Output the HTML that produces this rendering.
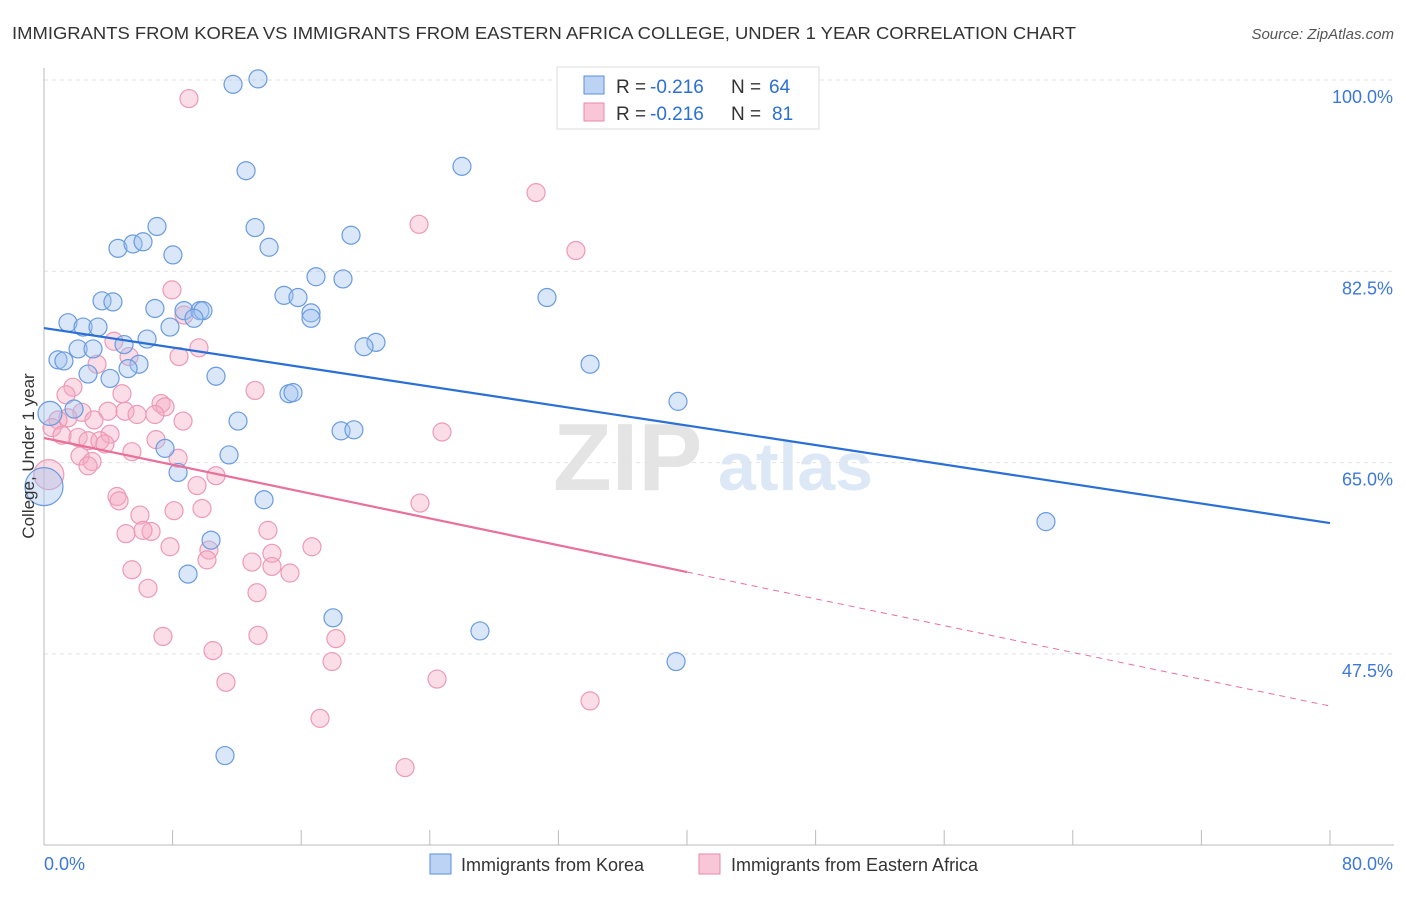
<!DOCTYPE html>
<html><head><meta charset="utf-8"><style>
body{margin:0;background:#fff;font-family:"Liberation Sans",sans-serif;}
svg text{font-family:"Liberation Sans",sans-serif;}
</style></head><body>
<svg id="chart" width="1406" height="892" xmlns="http://www.w3.org/2000/svg">
<text x="12" y="39" font-size="17.5" fill="#333" textLength="1064" lengthAdjust="spacingAndGlyphs">IMMIGRANTS FROM KOREA VS IMMIGRANTS FROM EASTERN AFRICA COLLEGE, UNDER 1 YEAR CORRELATION CHART</text>
<text x="1394" y="39" font-size="15" fill="#555" text-anchor="end" font-style="italic">Source: ZipAtlas.com</text>
<text x="553" y="490" font-size="96" fill="#e4e4e4" font-family="Liberation Serif" font-weight="bold">ZIP</text>
<text x="718" y="490" font-size="68" fill="#dde8f6" font-weight="bold">atlas</text>
<g id="grid"></g>
<g id="axes"></g>
<g id="pts"></g>
<g id="trend"></g>
<text transform="translate(34,456) rotate(-90)" font-size="17" fill="#333" text-anchor="middle">College, Under 1 year</text>
<g>
<rect x="557" y="67" width="262" height="62" fill="#fff" stroke="#ddd"/>
<rect x="584" y="76" width="20" height="18" fill="#bdd3f3" stroke="#5a8fdc"/>
<rect x="584" y="103" width="20" height="18" fill="#f8c6d6" stroke="#e889a8"/>
<text x="616" y="93" font-size="19" fill="#333">R =</text>
<text x="650" y="93" font-size="19" fill="#2a6fd6">-0.216</text>
<text x="731" y="93" font-size="19" fill="#333">N =</text>
<text x="769" y="93" font-size="19" fill="#2a6fd6">64</text>
<text x="616" y="120" font-size="19" fill="#333">R =</text>
<text x="650" y="120" font-size="19" fill="#2a6fd6">-0.216</text>
<text x="731" y="120" font-size="19" fill="#333">N =</text>
<text x="772" y="120" font-size="19" fill="#2a6fd6">81</text>
</g>
<g>
<rect x="430" y="854" width="21" height="20" fill="#bdd3f3" stroke="#5a8fdc"/>
<text x="461" y="871" font-size="18" fill="#333">Immigrants from Korea</text>
<rect x="699" y="854" width="21" height="20" fill="#f8c6d6" stroke="#e889a8"/>
<text x="731" y="871" font-size="18" fill="#333">Immigrants from Eastern Africa</text>
</g>
</svg>
<script>
const yTicks=[100,82.5,65,47.5];
const yTickLabels=["100.0%","82.5%","65.0%","47.5%"];
const xTicks=[0,8,16,24,32,40,48,56,64,72,80];
const koreaX=[11.76,13.31,12.57,26.0,7.03,13.13,19.1,4.6,5.54,6.16,8.02,14.0,16.92,18.6,3.61,4.29,14.93,15.8,6.9,8.71,9.7,9.89,9.33,16.61,16.61,31.29,1.49,2.43,3.36,7.84,6.41,4.98,2.12,3.05,0.87,1.24,5.91,20.65,19.91,33.97,2.74,4.11,5.23,10.7,15.24,15.49,39.44,1.87,12.07,18.48,19.28,7.53,11.51,8.34,0,13.69,62.33,10.39,8.96,17.98,27.12,39.32,11.26,0.37];
const koreaY=[99.6,100.1,91.7,92.1,86.6,86.5,85.8,84.6,85.0,85.2,84.0,84.7,82.0,81.8,79.8,79.7,80.3,80.1,79.1,78.9,78.9,78.9,78.2,78.7,78.2,80.1,77.8,77.4,77.4,77.4,76.3,75.8,75.4,75.4,74.4,74.3,74.0,76.0,75.6,74.0,73.1,72.7,73.6,72.9,71.3,71.4,70.6,69.9,68.8,67.9,68.0,66.3,65.7,64.1,62.8,61.6,59.6,57.9,54.8,50.8,49.6,46.8,38.2,69.5];
const koreaSize=[9,9,9,9,9,9,9,9,9,9,9,9,9,9,9,9,9,9,9,9,9,9,9,9,9,9,9,9,9,9,9,9,9,9,9,9,9,9,9,9,9,9,9,9,9,9,9,9,9,9,9,9,9,9,19,9,9,9,9,9,9,9,9,12];
const eafX=[9.02,30.61,23.33,33.09,7.96,8.71,4.35,9.64,8.4,5.29,3.3,1.8,13.13,4.85,1.37,7.28,7.53,3.98,5.04,5.79,6.9,2.36,1.49,0.87,0.5,1.12,2.12,3.11,8.65,24.76,4.11,6.97,2.74,3.48,3.79,5.47,8.34,2.24,2.99,2.74,10.7,9.52,23.39,4.54,4.67,5.97,8.09,9.83,5.1,6.66,6.16,13.93,7.84,10.26,10.14,12.94,14.18,14.18,15.3,16.67,5.47,6.47,13.25,7.4,13.31,18.16,10.51,17.92,11.32,24.45,17.17,33.97,22.46,0.3];
const eafY=[98.3,89.7,86.8,84.4,80.8,78.5,76.1,75.5,74.7,74.7,74.0,71.9,71.6,71.3,71.2,70.4,70.1,69.7,69.7,69.4,69.4,69.6,69.1,68.9,68.2,67.5,67.3,68.9,68.8,67.8,67.6,67.1,67.0,67.0,66.7,66.0,65.4,65.6,65.1,64.7,63.8,62.9,61.3,61.9,61.5,60.2,60.6,60.8,58.5,58.7,58.8,58.8,57.3,57.0,56.1,55.9,56.7,55.5,54.9,57.3,55.2,53.5,53.1,49.1,49.2,48.9,47.8,46.8,44.9,45.2,41.6,43.2,37.1,63.9];
const koreaTrend=[77.31,59.47];
const eafTrend=[67.25,42.73];
const eafSolidEnd=40;
const NS="http://www.w3.org/2000/svg";
const X=v=>44+v*(1286/80);
const Y=v=>80+(100-v)*(191.3/17.5);
function mk(tag,attrs,parent){const e=document.createElementNS(NS,tag);for(const k in attrs)e.setAttribute(k,attrs[k]);parent.appendChild(e);return e;}
const grid=document.getElementById('grid'),axes=document.getElementById('axes'),pts=document.getElementById('pts'),trend=document.getElementById('trend');
yTicks.forEach((t,i)=>{
 const l=mk('line',{x1:44,x2:1394,y1:Y(t),y2:Y(t),stroke:'#e2e2e2','stroke-dasharray':'4,4'},grid);
 
 
 const tx=mk('text',{x:1393,y:Y(t)+23,'font-size':18,fill:'#3c78d8','text-anchor':'end'},grid);
 tx.textContent=yTickLabels[i];
 
 
});
const ax=mk('line',{x1:44,x2:44,y1:68,y2:845,stroke:'#bbb'},axes);


const bx=mk('line',{x1:44,x2:1394,y1:845,y2:845,stroke:'#bbb'},axes);


xTicks.forEach(t=>{
 const k=mk('line',{x1:X(t),x2:X(t),y1:830,y2:845,stroke:'#bbb'},axes);
 
 
});
const xl0=mk('text',{x:44,y:870,'font-size':18,fill:'#3c78d8'},axes);xl0.textContent='0.0%';


const xl1=mk('text',{x:1393,y:870,'font-size':18,fill:'#3c78d8','text-anchor':'end'},axes);xl1.textContent='80.0%';


eafX.forEach((v,i)=>{
 const c=mk('circle',{cx:X(v),cy:Y(eafY[i]),r:i===eafX.length-1?15:9,fill:'rgba(245,170,195,0.4)',stroke:'#ec9ab5','stroke-width':1.2},pts);
 
 
});
koreaX.forEach((v,i)=>{
 const c=mk('circle',{cx:X(v),cy:Y(koreaY[i]),r:koreaSize[i],fill:'rgba(160,194,240,0.4)',stroke:'#6a9be0','stroke-width':1.2},pts);
 
 
});
const bt=mk('line',{x1:X(0),y1:Y(koreaTrend[0]),x2:X(80),y2:Y(koreaTrend[1]),stroke:'#2a6fd6','stroke-width':2.2},trend);


const pm=eafTrend[0]+(eafTrend[1]-eafTrend[0])*eafSolidEnd/80;
const pt=mk('line',{x1:X(0),y1:Y(eafTrend[0]),x2:X(eafSolidEnd),y2:Y(pm),stroke:'#e8709a','stroke-width':2.2},trend);


const pd=mk('line',{x1:X(eafSolidEnd),y1:Y(pm),x2:X(80),y2:Y(eafTrend[1]),stroke:'#e8709a','stroke-width':1,'stroke-dasharray':'6,5'},trend);


</script>
</body></html>
